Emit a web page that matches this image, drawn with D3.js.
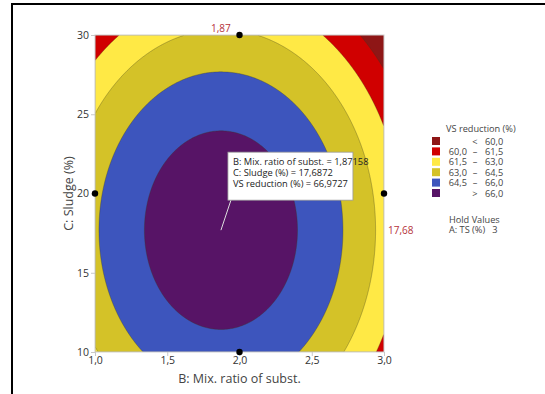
<!DOCTYPE html>
<html>
<head>
<meta charset="utf-8">
<script src="https://cdn.jsdelivr.net/npm/d3@7"></script>
<style>
body { margin: 0; background: #fff; font-family: "Open Sans", sans-serif; }
</style>
</head>
<body>
<div id="chart"></div>
<script>
var width = 545, height = 394;

// fitted model for VS reduction (%), A: TS held at 3
var terms = ["const", "B", "C", "B*B", "C*C", "B*C"];
var coefs = [47.06, 12.989, 0.8773, -3.47, -0.0248, 0];

var levels = [60, 61.5, 63, 64.5, 66];
var bandColors = ["#8e1616", "#d00000", "#ffe945", "#d4c228", "#3d55bd", "#571466"];
var bandLabels = [["<", "60,0"], ["60,0", "61,5"], ["61,5", "63,0"], ["63,0", "64,5"], ["64,5", "66,0"], [">", "66,0"]];

var xTicks = [1, 1.5, 2, 2.5, 3];
var yTicks = [10, 15, 20, 25, 30];
var edgePoints = [[2, 30], [1, 20], [3, 20], [2, 10]];
var optimum = [1.87158, 17.6872, 66.9727];
var holdValues = ["A: TS (%)", "3"];

var loc = d3.formatLocale({decimal: ",", thousands: ".", grouping: [3], currency: ["", ""]});
var f1 = loc.format(".1f"), f2 = loc.format(".2f"), f4 = loc.format(".4f"), f5 = loc.format(".5f");
// readouts at the plot edge are cut, not rounded
var cut2 = v => f2(Math.floor(v * 100) / 100);

var svg = d3.select("#chart").append("svg")
    .attr("width", width)
    .attr("height", height);

// outer frame
svg.append("rect")
    .attr("x", 12).attr("y", 4)
    .attr("width", 600).attr("height", 500)
    .attr("fill", "none")
    .attr("stroke", "#000")
    .attr("stroke-width", 2);

var pL = 95, pR = 384, pT = 35, pB = 352;

var x = d3.scaleLinear().domain([1, 3]).range([pL, pR]);
var y = d3.scaleLinear().domain([10, 30]).range([pB, pT]);

function predict(b, c) {
    var v = [1, b, c, b * b, c * c, b * c];
    return d3.sum(coefs, (k, i) => k * v[i]);
}

// grid of model values, one cell per pixel
var n = 290, m = 317;
var values = new Array(n * m);
for (var j = 0; j < m; j++) {
    for (var i = 0; i < n; i++) {
        values[j * n + i] = predict(1 + 2 * (i + 0.5) / n, 30 - 20 * (j + 0.5) / m);
    }
}

var contours = d3.contours().size([n, m]).thresholds(levels)(values);

var path = d3.geoPath(d3.geoTransform({
    point: function (px, py) {
        this.stream.point(x(1 + 2 * px / n), y(30 - 20 * py / m));
    }
}));

svg.append("clipPath").attr("id", "clip")
    .append("rect")
    .attr("x", pL).attr("y", pT)
    .attr("width", pR - pL).attr("height", pB - pT);

var plot = svg.append("g").attr("clip-path", "url(#clip)");

plot.append("rect")
    .attr("x", pL).attr("y", pT)
    .attr("width", pR - pL).attr("height", pB - pT)
    .attr("fill", bandColors[0]);

plot.selectAll("path.band")
    .data(contours)
    .enter().append("path")
    .attr("class", "band")
    .attr("d", path)
    .attr("fill", (d, i) => bandColors[i + 1])
    .attr("stroke", "#3a3a20")
    .attr("stroke-opacity", 0.55)
    .attr("stroke-width", 0.6);

// plot border
svg.append("rect")
    .attr("x", pL).attr("y", pT)
    .attr("width", pR - pL).attr("height", pB - pT)
    .attr("fill", "none")
    .attr("stroke", "#d0d0d0")
    .attr("stroke-width", 1);

// axes
var xAxis = svg.append("g")
    .attr("transform", "translate(0," + pB + ")")
    .call(d3.axisBottom(x).tickValues(xTicks).tickFormat(f1).tickSize(4).tickPadding(1));
var yAxis = svg.append("g")
    .attr("transform", "translate(" + pL + ",0)")
    .call(d3.axisLeft(y).tickValues(yTicks).tickFormat(d3.format("d")).tickSize(4).tickPadding(2));

[xAxis, yAxis].forEach(function (g) {
    g.select(".domain").remove();
    g.selectAll(".tick line").attr("stroke", "#c8c8c8");
    g.selectAll(".tick text")
        .attr("fill", "#333")
        .style("font-family", "Open Sans, sans-serif")
        .style("font-size", "10.5px");
});

svg.append("text")
    .attr("x", (pL + pR) / 2).attr("y", 383)
    .attr("text-anchor", "middle")
    .attr("fill", "#444")
    .style("font-size", "12.5px")
    .text("B: Mix. ratio of subst.");

svg.append("text")
    .attr("transform", "translate(73," + (pT + pB) / 2 + ") rotate(-90)")
    .attr("text-anchor", "middle")
    .attr("fill", "#444")
    .style("font-size", "12.5px")
    .text("C: Sludge (%)");

// design points on the edges
svg.selectAll("circle.pt")
    .data(edgePoints)
    .enter().append("circle")
    .attr("class", "pt")
    .attr("cx", d => x(d[0]))
    .attr("cy", d => y(d[1]))
    .attr("r", 3.2)
    .attr("fill", "#000");

// crosshair readouts
svg.append("text")
    .attr("x", x(optimum[0])).attr("y", pT - 3)
    .attr("text-anchor", "middle")
    .attr("fill", "#b5323a")
    .style("font-size", "10px")
    .text(cut2(optimum[0]));

svg.append("text")
    .attr("x", pR + 4).attr("y", y(optimum[1]) + 4)
    .attr("fill", "#b5323a")
    .style("font-size", "10px")
    .text(cut2(optimum[1]));

// tooltip
var ox = x(optimum[0]), oy = y(optimum[1]);
svg.append("line")
    .attr("x1", ox).attr("y1", oy)
    .attr("x2", ox + 10).attr("y2", oy - 30)
    .attr("stroke", "#ddd")
    .attr("stroke-width", 1);

var tip = svg.append("g").attr("transform", "translate(" + (ox + 7) + "," + (oy - 78) + ")");
tip.append("rect")
    .attr("width", 125).attr("height", 48)
    .attr("fill", "#fff")
    .attr("stroke", "#999")
    .attr("stroke-width", 0.8);
tip.selectAll("text")
    .data(["B: Mix. ratio of subst. = " + f5(optimum[0]),
           "C: Sludge (%) = " + f4(optimum[1]),
           "VS reduction (%) = " + f4(optimum[2])])
    .enter().append("text")
    .attr("x", 5)
    .attr("y", (d, i) => 13 + i * 11)
    .attr("fill", "#222")
    .style("font-size", "9.3px")
    .text(d => d);

// legend
var legend = svg.append("g").attr("transform", "translate(432,132)");
legend.append("text")
    .attr("x", 14).attr("y", 0)
    .attr("fill", "#444")
    .style("font-size", "9.2px")
    .text("VS reduction (%)");

var rows = legend.selectAll("g.row")
    .data(bandLabels)
    .enter().append("g")
    .attr("class", "row")
    .attr("transform", (d, i) => "translate(0," + (5 + i * 10.4) + ")");

rows.append("rect")
    .attr("width", 8).attr("height", 8)
    .attr("fill", (d, i) => bandColors[i]);

rows.append("text")
    .attr("x", 35).attr("y", 7.5)
    .attr("text-anchor", "end")
    .attr("fill", "#444")
    .style("font-size", "9.2px")
    .text(d => d[0] === "<" || d[0] === ">" ? "" : d[0]);

rows.append("text")
    .attr("x", 43).attr("y", 7.5)
    .attr("text-anchor", "middle")
    .attr("fill", "#444")
    .style("font-size", "9.2px")
    .text(d => d[0] === "<" || d[0] === ">" ? d[0] : "–");

rows.append("text")
    .attr("x", 53).attr("y", 7.5)
    .attr("fill", "#444")
    .style("font-size", "9.2px")
    .text(d => d[1]);

svg.append("text")
    .attr("x", 449).attr("y", 223)
    .attr("fill", "#444")
    .style("font-size", "9.2px")
    .text("Hold Values");

svg.append("text")
    .attr("x", 449).attr("y", 233)
    .attr("fill", "#444")
    .style("font-size", "9.2px")
    .attr("xml:space", "preserve")
    .text(holdValues[0] + "   " + holdValues[1]);
</script>
</body>
</html>
